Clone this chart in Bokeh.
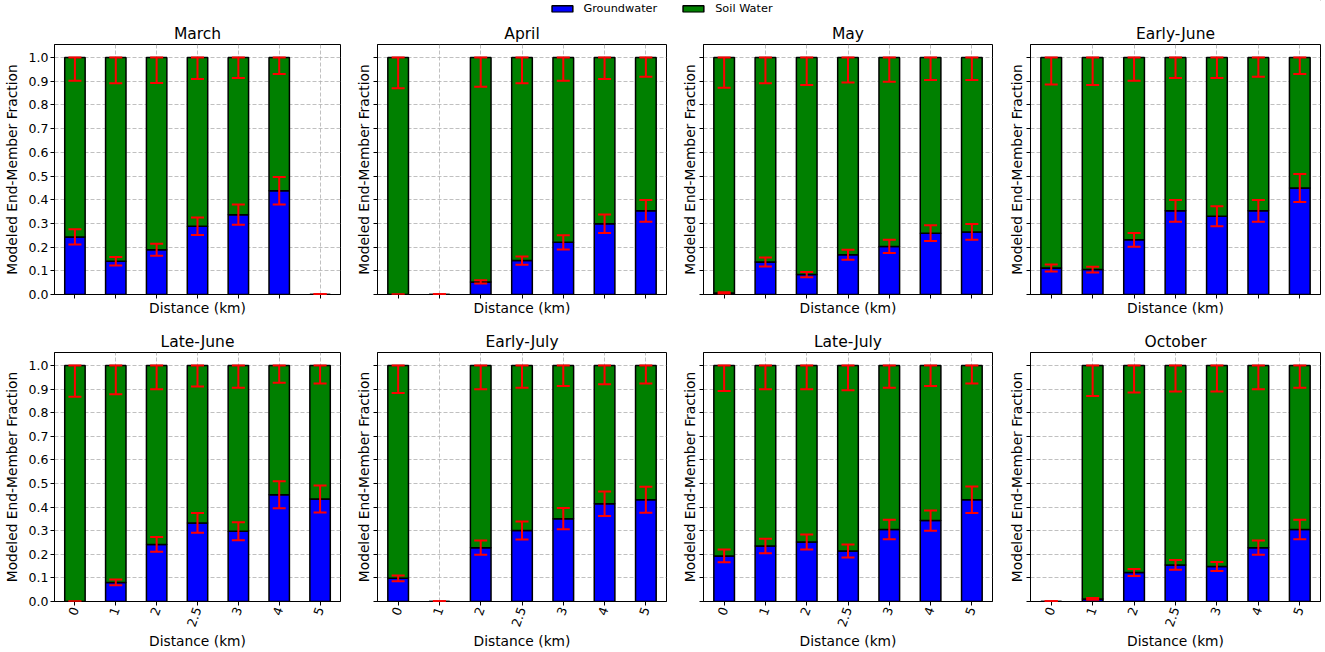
import math
from bokeh.plotting import figure
from bokeh.models import (ColumnDataSource, FactorRange, Range1d, Whisker, TeeHead,
                          FixedTicker, PrintfTickFormatter, CustomJSTickFormatter,
                          Legend, LegendItem)
from bokeh.layouts import column, row
from bokeh.embed import file_html
from bokeh.resources import INLINE

DISTANCES = ["0", "1", "2", "2.5", "3", "4", "5"]
MONTHS = ["March", "April", "May", "Early-June", "Late-June", "Early-July", "Late-July", "October"]
Y_TICKS = [0.0, 0.1, 0.2, 0.3, 0.4, 0.5, 0.6, 0.7, 0.8, 0.9, 1.0]

# groundwater fraction, its error, soil-water fraction, its (downward) error
GW_MARCH = [0.243, 0.140, 0.189, 0.288, 0.337, 0.438, 0.0]
GWE_MARCH = [0.032, 0.018, 0.025, 0.037, 0.043, 0.058, 0.0]
SW_MARCH = [0.757, 0.860, 0.811, 0.712, 0.663, 0.562, 0.0]
SWE_MARCH = [0.098, 0.109, 0.107, 0.091, 0.086, 0.070, 0.0]

GW_APRIL = [0.0, 0.0, 0.053, 0.143, 0.220, 0.299, 0.353]
GWE_APRIL = [0.0, 0.0, 0.007, 0.017, 0.030, 0.039, 0.046]
SW_APRIL = [1.0, 0.0, 0.947, 0.857, 0.780, 0.701, 0.647]
SWE_APRIL = [0.130, 0.0, 0.123, 0.109, 0.098, 0.091, 0.081]

GW_MAY = [0.006, 0.137, 0.084, 0.168, 0.203, 0.259, 0.264]
GWE_MAY = [0.003, 0.019, 0.011, 0.021, 0.028, 0.033, 0.033]
SW_MAY = [0.994, 0.863, 0.916, 0.832, 0.797, 0.741, 0.736]
SWE_MAY = [0.128, 0.109, 0.116, 0.105, 0.102, 0.095, 0.095]

GW_EJUNE = [0.112, 0.105, 0.231, 0.353, 0.330, 0.353, 0.449]
GWE_EJUNE = [0.015, 0.012, 0.029, 0.046, 0.042, 0.046, 0.059]
SW_EJUNE = [0.888, 0.895, 0.769, 0.647, 0.670, 0.647, 0.551]
SWE_EJUNE = [0.114, 0.116, 0.098, 0.086, 0.086, 0.081, 0.070]

GW_LJUNE = [0.0, 0.081, 0.242, 0.333, 0.298, 0.452, 0.434]
GWE_LJUNE = [0.0, 0.012, 0.031, 0.042, 0.038, 0.057, 0.057]
SW_LJUNE = [1.0, 0.919, 0.758, 0.667, 0.702, 0.548, 0.566]
SWE_LJUNE = [0.133, 0.122, 0.101, 0.089, 0.094, 0.073, 0.076]

GW_EJULY = [0.098, 0.0, 0.228, 0.301, 0.351, 0.414, 0.431]
GWE_EJULY = [0.012, 0.0, 0.030, 0.038, 0.045, 0.052, 0.055]
SW_EJULY = [0.902, 0.0, 0.772, 0.699, 0.649, 0.586, 0.569]
SWE_EJULY = [0.117, 0.0, 0.101, 0.094, 0.087, 0.080, 0.076]

GW_LJULY = [0.193, 0.235, 0.252, 0.214, 0.305, 0.343, 0.431]
GWE_LJULY = [0.027, 0.031, 0.032, 0.028, 0.041, 0.043, 0.056]
SW_LJULY = [0.807, 0.765, 0.748, 0.786, 0.695, 0.657, 0.569]
SWE_LJULY = [0.108, 0.101, 0.101, 0.105, 0.094, 0.087, 0.076]

GW_OCT = [0.0, 0.011, 0.123, 0.155, 0.148, 0.228, 0.305]
GWE_OCT = [0.0, 0.004, 0.015, 0.021, 0.019, 0.030, 0.041]
SW_OCT = [0.0, 0.989, 0.877, 0.845, 0.852, 0.772, 0.695]
SWE_OCT = [0.0, 0.129, 0.115, 0.110, 0.110, 0.101, 0.094]

PANELS = [
    (GW_MARCH, GWE_MARCH, SW_MARCH, SWE_MARCH),
    (GW_APRIL, GWE_APRIL, SW_APRIL, SWE_APRIL),
    (GW_MAY, GWE_MAY, SW_MAY, SWE_MAY),
    (GW_EJUNE, GWE_EJUNE, SW_EJUNE, SWE_EJUNE),
    (GW_LJUNE, GWE_LJUNE, SW_LJUNE, SWE_LJUNE),
    (GW_EJULY, GWE_EJULY, SW_EJULY, SWE_EJULY),
    (GW_LJULY, GWE_LJULY, SW_LJULY, SWE_LJULY),
    (GW_OCT, GWE_OCT, SW_OCT, SWE_OCT),
]

FONT = "DejaVu Sans"
GRID_COLOR = "#b0b0b0"

WIDTHS = [341, 326, 326, 328]
LEFTS = [51, 36, 36, 37]
HEIGHTS = [302, 334]
TOPS = [28, 34]
BOTTOMS = [23, 51]


def make_panel(idx, name, gw, gwe, sw, swe):
    c, r = idx % 4, idx // 4
    p = figure(x_range=FactorRange(*DISTANCES), y_range=Range1d(0, 1.055),
               width=WIDTHS[c], height=HEIGHTS[r],
               min_border_left=LEFTS[c], min_border_right=1,
               min_border_top=TOPS[r], min_border_bottom=BOTTOMS[r],
               toolbar_location=None, output_backend="svg", title=name)
    p.title.text_font = FONT
    p.title.text_font_size = "15.5px"
    p.title.text_font_style = "normal"
    p.title.text_color = "black"
    p.title.align = "center"
    p.title.standoff = 4

    top = [g + s for g, s in zip(gw, sw)]
    src = ColumnDataSource(dict(
        x=DISTANCES, gw=gw, top=top,
        gw_lo=[g - e for g, e in zip(gw, gwe)],
        gw_hi=[g + e for g, e in zip(gw, gwe)],
        sw_lo=[t - e for t, e in zip(top, swe)],
        sw_hi=top,
    ))
    p.vbar(x="x", bottom=0, top="gw", width=0.5, source=src,
           fill_color="blue", line_color="black", line_width=1.5)
    p.vbar(x="x", bottom="gw", top="top", width=0.5, source=src,
           fill_color="green", line_color="black", line_width=1.5)
    for lo, hi in (("gw_lo", "gw_hi"), ("sw_lo", "sw_hi")):
        w = Whisker(base="x", lower=lo, upper=hi, source=src, dimension="height",
                    line_color="red", line_width=2, level="annotation",
                    upper_head=TeeHead(size=13, line_color="red", line_width=2),
                    lower_head=TeeHead(size=13, line_color="red", line_width=2))
        p.add_layout(w)

    p.outline_line_color = "black"
    p.outline_line_width = 1
    for ax in (p.xaxis[0], p.yaxis[0]):
        ax.axis_line_color = "black"
        ax.major_tick_line_color = "black"
        ax.major_tick_out = 4
        ax.major_tick_in = 0
        ax.minor_tick_line_color = None
        ax.major_label_text_font = FONT
        ax.major_label_text_font_size = "12.5px"
        ax.major_label_text_color = "black"
        ax.major_label_standoff = 2
        ax.axis_label_text_font = FONT
        ax.axis_label_text_font_size = "13.8px"
        ax.axis_label_text_font_style = "normal"
        ax.axis_label_text_color = "black"

    p.yaxis.ticker = FixedTicker(ticks=Y_TICKS)
    p.yaxis.axis_label = "Modeled End-Member Fraction"
    if c == 0:
        p.yaxis.formatter = PrintfTickFormatter(format="%.1f")
        p.yaxis.axis_label_standoff = 6
    else:
        p.yaxis.formatter = CustomJSTickFormatter(code="return '';")
        p.yaxis.axis_label_standoff = 2

    p.xaxis.axis_label = "Distance (km)"
    p.xaxis.axis_label_standoff = 1
    if r == 0:
        p.xaxis.formatter = CustomJSTickFormatter(code="return '';")
    else:
        p.xaxis.major_label_orientation = math.radians(70)

    for g in (p.xgrid[0], p.ygrid[0]):
        g.grid_line_color = GRID_COLOR
        g.grid_line_dash = "4 2"
        g.grid_line_width = 0.8
    p.ygrid.ticker = FixedTicker(ticks=Y_TICKS)
    return p


panels = [make_panel(i, MONTHS[i], *PANELS[i]) for i in range(8)]

leg = figure(width=1321, height=16, x_axis_type=None, y_axis_type=None,
             x_range=Range1d(0, 1), y_range=Range1d(0, 1), min_border=0,
             toolbar_location=None, output_backend="svg")
leg.outline_line_color = None
r1 = leg.vbar(x=[5], bottom=[5], top=[6], width=0.5, fill_color="blue",
              line_color="black", line_width=1.5)
r2 = leg.vbar(x=[5], bottom=[5], top=[6], width=0.5, fill_color="green",
              line_color="black", line_width=1.5)
legend = Legend(items=[LegendItem(label="Groundwater", renderers=[r1]),
                       LegendItem(label="Soil Water", renderers=[r2])],
                orientation="horizontal", location="center",
                glyph_width=26, glyph_height=8, label_standoff=9, spacing=23,
                padding=0, margin=0, border_line_color=None, background_fill_alpha=0,
                label_text_font=FONT, label_text_font_size="11.3px",
                label_text_color="black", label_height=10)
leg.add_layout(legend, "center")

layout = column(leg, row(*panels[:4]), row(*panels[4:]))

open("out.html", "w").write(file_html(layout, INLINE))
